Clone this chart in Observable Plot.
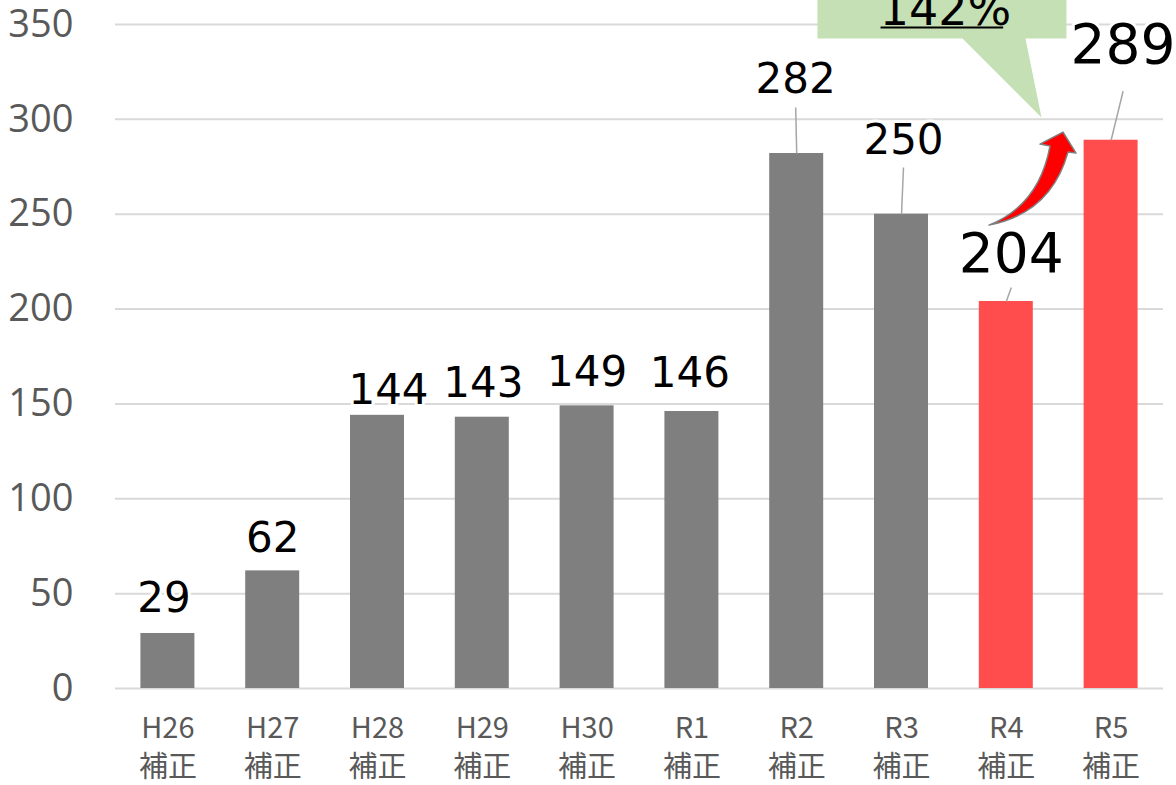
<!DOCTYPE html>
<html>
<head>
<meta charset="utf-8">
<script src="https://cdn.jsdelivr.net/npm/d3@7"></script>
<script src="https://cdn.jsdelivr.net/npm/@observablehq/plot@0.6"></script>
<style>
  html, body { margin: 0; padding: 0; background: #ffffff; }
  #chart { width: 1176px; height: 785px; overflow: hidden; }
</style>
</head>
<body>
<div id="chart"></div>
<script>
// ---- data ----
const categories = ["H26", "H27", "H28", "H29", "H30", "R1", "R2", "R3", "R4", "R5"];
const subLabel = "補正";
const values = [29, 62, 144, 143, 149, 146, 282, 250, 204, 289];
const highlighted = [false, false, false, false, false, false, false, false, true, true];
const yTicks = [0, 50, 100, 150, 200, 250, 300, 350];

// label layout (annotation placement, in data units / pixels)
const labelBaseline = [40.1, 72.2, 150.2, 153.4, 159.7, 158.7, 313.7, 281.5, 219.3, 329.5];
const labelShiftPx = [-4, 0, 11, 1, 0, -2, -1, 2, 5, 12];
const leaderTop = [null, null, null, null, null, null, 306.3, 274.6, 211.4, 314.8];

// callout
const calloutText = "142%";

const data = categories.map((c, i) => ({
  i, cat: c, value: values[i], hi: highlighted[i],
  ly: labelBaseline[i], ldx: labelShiftPx[i] / 104.8, lt: leaderTop[i]
}));

const gray = "#7f7f7f", red = "#ff4d4d", green = "#c5e0b4";
const fontLatin = "'Open Sans', 'Noto Sans', sans-serif";
const fontLabel = "'DejaVu Sans', 'Noto Sans', sans-serif";
const fontJP = "'Noto Sans CJK JP', 'Noto Sans', sans-serif";

const calloutPoly = [
  {x: 6.198, y: 380}, {x: 8.574, y: 380}, {x: 8.574, y: 342.6}, {x: 8.183, y: 342.6},
  {x: 8.336, y: 301}, {x: 7.582, y: 342.6}, {x: 6.198, y: 342.6}
];

const plot = Plot.plot({
  width: 1176,
  height: 785,
  marginTop: 24,
  marginBottom: 97,
  marginLeft: 115,
  marginRight: 13,
  style: { background: "white", fontFamily: fontLatin, overflow: "hidden" },
  x: { type: "linear", domain: [-0.5, 9.5], label: null },
  y: { domain: [0, 350], label: null },
  marks: [
    Plot.gridY(yTicks, { stroke: "#d9d9d9", strokeOpacity: 1, strokeWidth: 2 }),
    Plot.axisY({ ticks: yTicks, tickSize: 0, tickPadding: 42, fontSize: 38, fill: "#595959", fontFamily: fontLatin, label: null }),
    Plot.axisX({
      ticks: d3.range(categories.length), tickSize: 0, tickPadding: 21,
      tickFormat: d => categories[d] + "\n" + subLabel,
      fontSize: 29, lineHeight: 1.37, fill: "#595959", fontFamily: fontJP, label: null
    }),
    Plot.rectY(data, { x1: d => d.i - 0.2576, x2: d => d.i + 0.2576, y: "value", fill: d => d.hi ? red : gray }),
    Plot.link(data.filter(d => d.lt != null), {
      x1: d => d.i + d.ldx, y1: "lt", x2: "i", y2: "value", stroke: "#a6a6a6", strokeWidth: 1.5
    }),
    Plot.text(data.filter(d => !d.hi), {
      x: d => d.i + d.ldx, y: "ly", text: d => String(d.value), lineAnchor: "bottom",
      fontSize: 42, fill: "black", stroke: "white", strokeWidth: 6, fontFamily: fontLabel
    }),
    Plot.text(data.filter(d => d.hi), {
      x: d => d.i + d.ldx, y: "ly", text: d => String(d.value), lineAnchor: "bottom",
      fontSize: 55, fill: "black", stroke: "white", strokeWidth: 6, fontFamily: fontLabel
    }),
    Plot.line(calloutPoly, { x: "x", y: "y", fill: green, stroke: "none" }),
    Plot.text([calloutText], { x: 7.42, y: 349.5, text: d => d, lineAnchor: "bottom", fontSize: 46, fill: "black", fontFamily: fontLabel }),
    Plot.link([0], { x1: 6.80, x2: 7.97, y1: 348.4, y2: 348.4, stroke: "black", strokeWidth: 2 })
  ]
});

document.getElementById("chart").appendChild(plot);

// curved block arrow from R4 toward R5 (positioned via the plot's scales)
const sx = plot.scale("x"), sy = plot.scale("y");
const tx = sx.apply(7.84), ty = sy.apply(244);
const p = (a, b) => `${(tx + a).toFixed(1)},${(ty + b).toFixed(1)}`;
const arrowPath = `M${p(0,0)} Q${p(50,-20)} ${p(61,-79)} L${p(51,-81)} L${p(74,-93)} L${p(87,-72)} L${p(79,-73)} Q${p(62,-12)} ${p(0,0)} Z`;
d3.select(plot).append("path")
  .attr("d", arrowPath)
  .attr("fill", "#ff0000")
  .attr("stroke", "#7f7f7f")
  .attr("stroke-width", 1.5)
  .attr("stroke-linejoin", "round");
</script>
</body>
</html>
